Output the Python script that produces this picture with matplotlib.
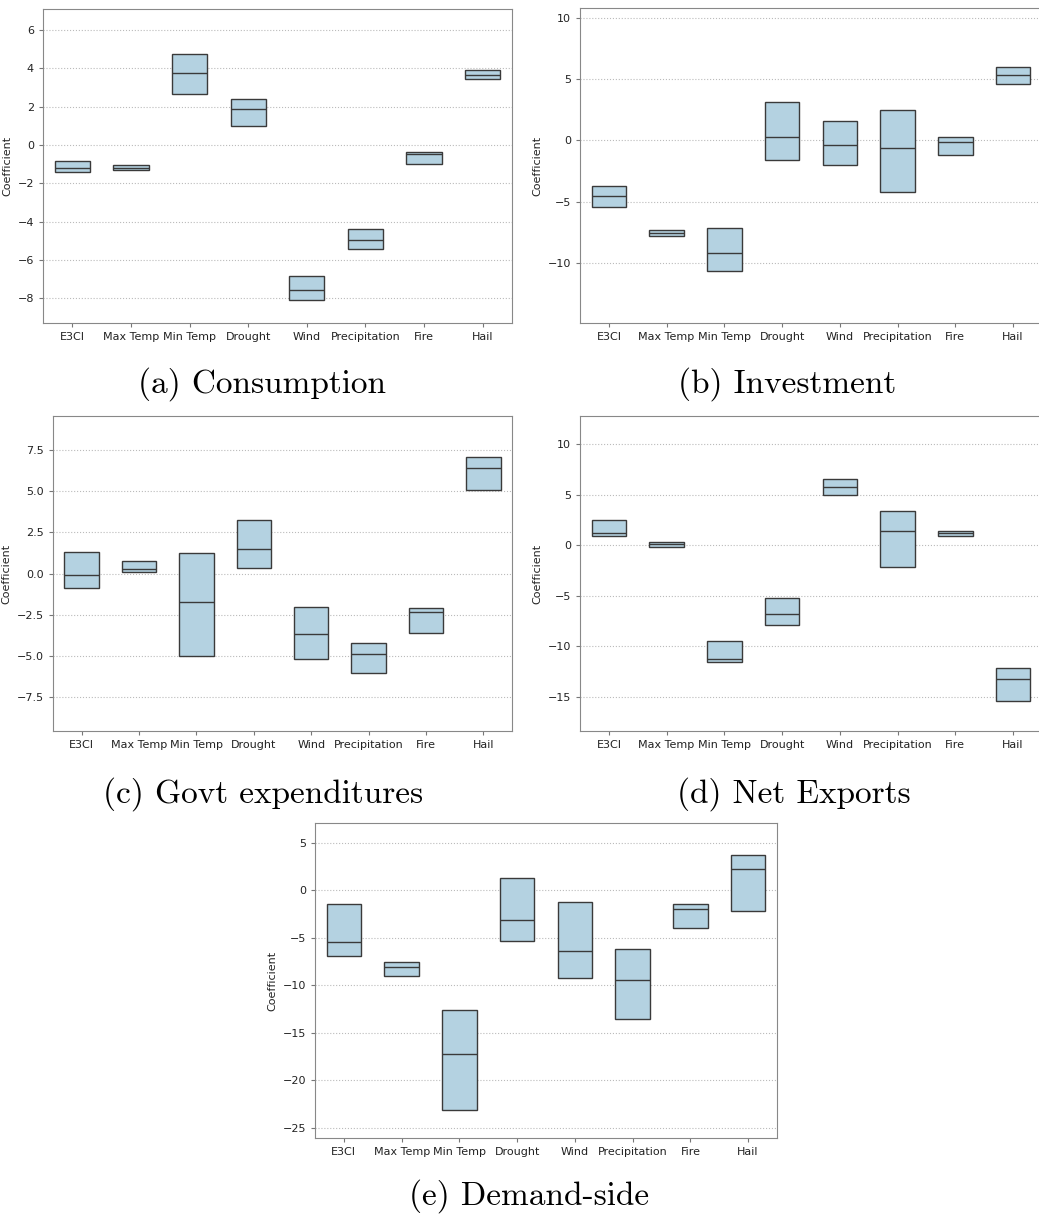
import numpy as np
import matplotlib.pyplot as plt

factors = ['E3CI', 'Max Temp', 'Min Temp', 'Drought', 'Wind', 'Precipitation', 'Fire', 'Hail']

# (a) Consumption
cons_low = [-1.42, -1.32, 2.64, 0.97, -8.12, -5.41, -0.99, 3.45]
cons_med = [-1.20, -1.18, 3.76, 1.86, -7.56, -4.94, -0.45, 3.66]
cons_high = [-0.82, -1.06, 4.77, 2.41, -6.82, -4.41, -0.35, 3.90]

# (b) Investment
inv_low = [-5.43, -7.77, -10.65, -1.63, -1.98, -4.21, -1.20, 4.62]
inv_med = [-4.54, -7.58, -9.21, 0.24, -0.41, -0.65, -0.14, 5.33]
inv_high = [-3.72, -7.28, -7.15, 3.10, 1.60, 2.45, 0.24, 5.95]

# (c) Govt expenditures
gov_low = [-0.89, 0.10, -5.02, 0.33, -5.22, -6.04, -3.62, 5.12]
gov_med = [-0.08, 0.26, -1.75, 1.52, -3.66, -4.92, -2.36, 6.42]
gov_high = [1.30, 0.77, 1.28, 3.25, -2.05, -4.23, -2.09, 7.13]

# (d) Net Exports
nx_low = [0.89, -0.20, -11.53, -7.89, 4.95, -2.18, 0.96, -15.39]
nx_med = [1.22, 0.10, -11.26, -6.84, 5.81, 1.42, 1.19, -13.24]
nx_high = [2.51, 0.30, -9.48, -5.25, 6.60, 3.43, 1.45, -12.15]

# (e) Demand-side
dem_low = [-6.87, -9.01, -23.10, -5.35, -9.19, -13.56, -3.98, -2.18]
dem_med = [-5.46, -8.06, -17.29, -3.10, -6.44, -9.47, -1.94, 2.22]
dem_high = [-1.44, -7.54, -12.61, 1.27, -1.23, -6.23, -1.44, 3.77]

W, H = 1039, 1215
fig = plt.figure(figsize=(W / 100, H / 100), dpi=100)


def add_ax(left, top, right, bottom):
    # pixel box -> figure fraction
    return fig.add_axes([left / W, 1 - bottom / H, (right - left) / W, (bottom - top) / H])


def draw_panel(ax, low, med, high, ylim, yticks):
    x = np.arange(len(factors))
    low = np.array(low)
    high = np.array(high)
    ax.bar(x, high - low, bottom=low, width=0.6, color='#b4d2e1',
           edgecolor='#3a3a3a', linewidth=1.0, zorder=2)
    ax.hlines(med, x - 0.3, x + 0.3, color='#3a3a3a', linewidth=1.0, zorder=3)
    ax.set_xlim(-0.5, 7.5)
    ax.set_ylim(*ylim)
    ax.set_yticks(yticks)
    ax.set_xticks(x)
    ax.set_xticklabels(factors)
    ax.tick_params(labelsize=8, length=3, color='#777777', labelcolor='#222222')
    ax.set_ylabel('Coefficient', fontsize=8, color='#222222')
    ax.yaxis.grid(True, linestyle=':', color='#bbbbbb', linewidth=0.8)
    ax.set_axisbelow(True)
    for s in ax.spines.values():
        s.set_color('#888888')


ax_a = add_ax(43, 9, 512, 323)
draw_panel(ax_a, cons_low, cons_med, cons_high, (-9.3, 7.1), [-8, -6, -4, -2, 0, 2, 4, 6])

ax_b = add_ax(580, 8, 1042, 323)
draw_panel(ax_b, inv_low, inv_med, inv_high, (-14.9, 10.8), [-10, -5, 0, 5, 10])

ax_c = add_ax(53, 416, 512, 731)
draw_panel(ax_c, gov_low, gov_med, gov_high, (-9.6, 9.6), [-7.5, -5, -2.5, 0, 2.5, 5, 7.5])

ax_d = add_ax(580, 416, 1042, 731)
draw_panel(ax_d, nx_low, nx_med, nx_high, (-18.4, 12.8), [-15, -10, -5, 0, 5, 10])

ax_e = add_ax(315, 823, 777, 1138)
draw_panel(ax_e, dem_low, dem_med, dem_high, (-26.1, 7.1), [-25, -20, -15, -10, -5, 0, 5])

captions = ['(a) Consumption', '(b) Investment', '(c) Govt expenditures',
            '(d) Net Exports', '(e) Demand-side']
cap_x = [262, 787, 263, 794, 529]
cap_y = [393, 393, 803, 803, 1205]
for txt, cx, cy in zip(captions, cap_x, cap_y):
    fig.text(cx / W, 1 - cy / H, txt, ha='center', va='baseline',
             fontsize=24, family='cmr10')

fig.savefig('out.png', dpi=100)
